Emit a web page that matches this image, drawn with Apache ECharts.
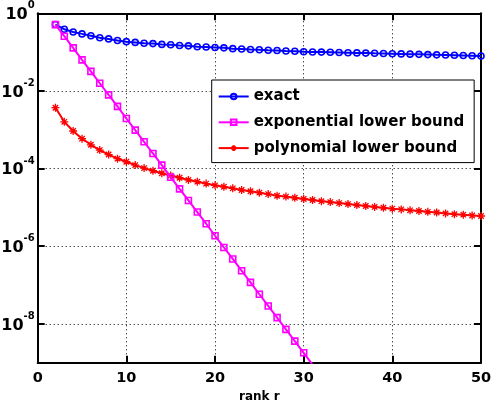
<!DOCTYPE html>
<html>
<head>
<meta charset="utf-8">
<script src="https://cdn.jsdelivr.net/npm/echarts@6/dist/echarts.min.js"></script>
<style>
html,body{margin:0;padding:0;background:#fff;}
#c{width:492px;height:402px;}
</style>
</head>
<body>
<div id="c"></div>
<script>
const rankAll = [2,3,4,5,6,7,8,9,10,11,12,13,14,15,16,17,18,19,20,21,22,23,24,25,26,27,28,29,30,31,32,33,34,35,36,37,38,39,40,41,42,43,44,45,46,47,48,49,50];
const exactValues = [0.513,0.389,0.331,0.295,0.263,0.234,0.219,0.200,0.186,0.178,0.170,0.166,0.158,0.155,0.148,0.145,0.138,0.135,0.132,0.129,0.123,0.120,0.117,0.115,0.112,0.110,0.107,0.105,0.102,0.101,0.100,0.0989,0.0977,0.0966,0.0955,0.0944,0.0933,0.0923,0.0912,0.0899,0.0887,0.0875,0.0863,0.0851,0.0840,0.0829,0.0818,0.0807,0.0794];
const rankExp = [2,3,4,5,6,7,8,9,10,11,12,13,14,15,16,17,18,19,20,21,22,23,24,25,26,27,28,29,30,31];
const expValues = [5.1e-1,2.57e-1,1.29e-1,6.3e-2,3.2e-2,1.58e-2,7.9e-3,4.0e-3,1.95e-3,9.8e-4,4.9e-4,2.45e-4,1.23e-4,6.0e-5,3.0e-5,1.51e-5,7.6e-6,3.8e-6,1.86e-6,9.3e-7,4.7e-7,2.34e-7,1.17e-7,5.8e-8,2.9e-8,1.45e-8,7.2e-9,3.6e-9,1.8e-9,8.9e-10];
const polyValues = [3.7e-3,1.6e-3,9.3e-4,5.9e-4,4.1e-4,3.0e-4,2.3e-4,1.8e-4,1.5e-4,1.23e-4,1.03e-4,8.8e-5,7.6e-5,6.6e-5,5.8e-5,5.1e-5,4.6e-5,4.1e-5,3.7e-5,3.4e-5,3.1e-5,2.8e-5,2.6e-5,2.4e-5,2.2e-5,2.0e-5,1.9e-5,1.77e-5,1.65e-5,1.55e-5,1.45e-5,1.37e-5,1.29e-5,1.22e-5,1.15e-5,1.09e-5,1.03e-5,9.8e-6,9.3e-6,8.9e-6,8.4e-6,8.1e-6,7.7e-6,7.4e-6,7.0e-6,6.7e-6,6.5e-6,6.2e-6,6.0e-6];
const yTickValues = [1e-8,1e-6,1e-4,1e-2,1];
const seriesNames = ['exact','exponential lower bound','polynomial lower bound'];

const FONT = 'DejaVu Sans, Verdana, sans-serif';
const pairs = (xs, ys) => xs.map((x, i) => [x, ys[i]]);
const star = 'path://M5,0 L5,10 M0,5 L10,5 M1.6,1.6 L8.4,8.4 M1.6,8.4 L8.4,1.6';

const axisLine = {show:true, onZero:false, lineStyle:{color:'#000', width:2}};
const tick = {show:true, inside:true, length:7, lineStyle:{color:'#000', width:2}};
const grid = {show:true, lineStyle:{color:'#000', width:1, type:[1,3]}};

function yFmt(v){
  const e = Math.round(Math.log10(v));
  if (e % 2 !== 0) return '';
  return '{b|10}{s|' + (e === 0 ? '0' : '-' + (-e)) + '}';
}

const chart = echarts.init(document.getElementById('c'));
chart.setOption({
  backgroundColor:'#fff',
  animation:false,
  grid:{left:37.7, right:11, top:13.3, bottom:39.3, containLabel:false, outerBoundsMode:'none'},
  legend:{
    orient:'vertical', left:211.7, top:80,
    backgroundColor:'#fff', borderColor:'#000', borderWidth:1, borderRadius:0,
    padding:[9,10,7,6], itemWidth:30, itemHeight:7, itemGap:10.8,
    textStyle:{fontFamily:FONT, fontWeight:'bold', fontSize:15, color:'#000', lineHeight:14},
    data:seriesNames
  },
  xAxis:[
    {type:'value', position:'bottom', min:0, max:50, interval:10,
     axisLine:axisLine, axisTick:tick, splitLine:grid,
     axisLabel:{fontFamily:FONT, fontWeight:'bold', fontSize:14.5, color:'#000', margin:8},
     name:'rank r', nameLocation:'middle', nameGap:27,
     nameTextStyle:{fontFamily:FONT, fontWeight:'bold', fontSize:12, color:'#000'}},
    {type:'value', position:'top', min:0, max:50, interval:10,
     axisLine:axisLine, axisTick:tick, splitLine:{show:false}, axisLabel:{show:false}}
  ],
  yAxis:[
    {type:'log', logBase:10, position:'left', min:1e-9, max:1,
     axisLine:axisLine,
     axisTick:Object.assign({customValues:yTickValues}, tick),
     splitLine:grid,
     axisLabel:{customValues:yTickValues, formatter:yFmt, margin:3, color:'#000', padding:[3,0,0,0],
       rich:{
         b:{fontFamily:FONT, fontWeight:'bold', fontSize:16, lineHeight:16, color:'#000', verticalAlign:'bottom'},
         s:{fontFamily:FONT, fontWeight:'bold', fontSize:10, lineHeight:10, color:'#000', verticalAlign:'bottom', padding:[0,0,12,0]}
       }}},
    {type:'log', logBase:10, position:'right', min:1e-9, max:1,
     axisLine:axisLine,
     axisTick:Object.assign({customValues:yTickValues}, tick),
     splitLine:{show:false}, axisLabel:{show:false}}
  ],
  series:[
    {name:seriesNames[0], type:'line', data:pairs(rankAll, exactValues),
     symbol:'circle', symbolSize:6, showAllSymbol:true, clip:true,
     lineStyle:{color:'#0000ff', width:2},
     itemStyle:{color:'rgba(0,0,255,0)', borderColor:'#0000ff', borderWidth:1.6}, z:3},
    {name:seriesNames[1], type:'line', data:pairs(rankExp, expValues),
     symbol:'rect', symbolSize:6, showAllSymbol:true, clip:true,
     lineStyle:{color:'#ff00ff', width:2},
     itemStyle:{color:'rgba(255,0,255,0)', borderColor:'#ff00ff', borderWidth:1.6}, z:4},
    {name:seriesNames[2], type:'line', data:pairs(rankAll, polyValues),
     symbol:star, symbolSize:8, showAllSymbol:true, clip:true,
     lineStyle:{color:'#ff0000', width:2},
     itemStyle:{color:'rgba(255,0,0,0)', borderColor:'#ff0000', borderWidth:1.3}, z:2}
  ]
});
</script>
</body>
</html>
